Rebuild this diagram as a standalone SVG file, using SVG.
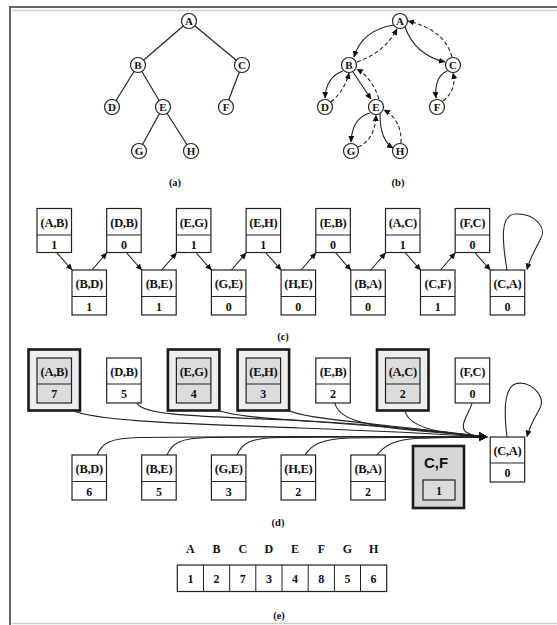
<svg xmlns="http://www.w3.org/2000/svg" width="557" height="625" viewBox="0 0 557 625">
<style>
  text{font-family:"Liberation Serif","Times New Roman",serif;font-weight:bold;fill:#111;text-anchor:middle}
  .lbl{font-size:12.5px;letter-spacing:-0.3px}
  .num{font-size:12px}
  .cap{font-size:10.5px}
  .nd{fill:#fff;stroke:#222;stroke-width:1.2}
  .nt{font-size:11px}
  .bx{fill:#fff;stroke:#222;stroke-width:1.2}
  .dv{stroke:#222;stroke-width:1}
  .sh{fill:#dcdcdc;stroke:#222;stroke-width:1.2}
  .so{fill:#eeeeee;stroke:#1a1a1a;stroke-width:2.6}
  .e{fill:none;stroke:#222;stroke-width:1.2}
  .s{fill:none;stroke:#222;stroke-width:1.1;marker-end:url(#ah)}
  .d{fill:none;stroke:#222;stroke-width:1.1;stroke-dasharray:4 2.5;marker-end:url(#ah)}
  .c{fill:none;stroke:#222;stroke-width:1.1;marker-end:url(#ab)}
  .frame{fill:none;stroke:#666;stroke-width:2}
</style>
<defs>
  <marker id="ah" markerUnits="userSpaceOnUse" markerWidth="7" markerHeight="6" refX="6" refY="3" orient="auto">
    <path d="M0,0 L6.5,3 L0,6 z" fill="#111"/>
  </marker>
  <marker id="ab" markerUnits="userSpaceOnUse" markerWidth="9" markerHeight="8" refX="8" refY="4" orient="auto">
    <path d="M0,0 L8.5,4 L0,8 z" fill="#111"/>
  </marker>
</defs>
<rect x="0" y="0" width="557" height="625" fill="#fff"/>
<g id="frame">
  <path class="frame" d="M10,625 V7 H557"/>
  <path d="M12,10.5 H557" stroke="#d0d0d0" stroke-width="1.5" fill="none"/>
  <path d="M12,623.5 H557" stroke="#d0d0d0" stroke-width="1.5" fill="none"/>
</g>

<!-- Tree (a) -->
<g id="edges-a">
  <line class="e" x1="189" y1="21" x2="138" y2="65"/>
  <line class="e" x1="189" y1="21" x2="242" y2="65"/>
  <line class="e" x1="138" y1="65" x2="112" y2="107"/>
  <line class="e" x1="138" y1="65" x2="163" y2="107"/>
  <line class="e" x1="242" y1="65" x2="226" y2="107"/>
  <line class="e" x1="163" y1="107" x2="139" y2="151"/>
  <line class="e" x1="163" y1="107" x2="191" y2="151"/>
</g>
<g id="a-A"><circle class="nd" cx="189" cy="21" r="7.5"/><text class="nt" x="189" y="25">A</text></g>
<g id="a-B"><circle class="nd" cx="138" cy="65" r="7.5"/><text class="nt" x="138" y="69">B</text></g>
<g id="a-C"><circle class="nd" cx="242" cy="65" r="7.5"/><text class="nt" x="242" y="69">C</text></g>
<g id="a-D"><circle class="nd" cx="112" cy="107" r="7.5"/><text class="nt" x="112" y="111">D</text></g>
<g id="a-E"><circle class="nd" cx="163" cy="107" r="7.5"/><text class="nt" x="163" y="111">E</text></g>
<g id="a-F"><circle class="nd" cx="226" cy="107" r="7.5"/><text class="nt" x="226" y="111">F</text></g>
<g id="a-G"><circle class="nd" cx="139" cy="151" r="7.5"/><text class="nt" x="139" y="155">G</text></g>
<g id="a-H"><circle class="nd" cx="191" cy="151" r="7.5"/><text class="nt" x="191" y="155">H</text></g>
<text class="cap" x="175" y="186">(a)</text>

<!-- Tree (b) -->
<g id="edges-b">
  <path class="s" d="M394,25 Q362,30 354,57"/>
  <path class="d" d="M357,62 Q385,52 397,29"/>
  <path class="s" d="M405,27 Q415,55 445,62"/>
  <path class="d" d="M452,57 Q445,30 408,21"/>
  <path class="s" d="M343,71 Q326,77 325,98"/>
  <path class="d" d="M331,102 Q345,90 349,73"/>
  <path class="s" d="M353,72 L371,99"/>
  <path class="d" d="M379,99 Q372,78 357,69"/>
  <path class="s" d="M370,113 Q352,118 351,142"/>
  <path class="d" d="M358,147 Q375,140 376,115"/>
  <path class="s" d="M380,114 Q380,140 393,148"/>
  <path class="d" d="M401,143 Q402,120 384,110"/>
  <path class="s" d="M447,71 Q434,77 436,98"/>
  <path class="d" d="M443,101 Q457,90 453,73"/>
</g>
<g id="b-A"><circle class="nd" cx="400" cy="21" r="7.5"/><text class="nt" x="400" y="25">A</text></g>
<g id="b-B"><circle class="nd" cx="349" cy="65" r="7.5"/><text class="nt" x="349" y="69">B</text></g>
<g id="b-C"><circle class="nd" cx="453" cy="65" r="7.5"/><text class="nt" x="453" y="69">C</text></g>
<g id="b-D"><circle class="nd" cx="325" cy="107" r="7.5"/><text class="nt" x="325" y="111">D</text></g>
<g id="b-E"><circle class="nd" cx="376" cy="107" r="7.5"/><text class="nt" x="376" y="111">E</text></g>
<g id="b-F"><circle class="nd" cx="437" cy="107" r="7.5"/><text class="nt" x="437" y="111">F</text></g>
<g id="b-G"><circle class="nd" cx="351" cy="151" r="7.5"/><text class="nt" x="351" y="155">G</text></g>
<g id="b-H"><circle class="nd" cx="400" cy="151" r="7.5"/><text class="nt" x="400" y="155">H</text></g>
<text class="cap" x="398" y="186">(b)</text>

<!-- Row (c) -->
<g id="edges-c">
  <path class="s" d="M57,253 L72,270"/>
  <path class="s" d="M92,270 L106.7,253"/>
  <path class="s" d="M126.7,253 L141.7,270"/>
  <path class="s" d="M161.7,270 L176.4,253"/>
  <path class="s" d="M196.4,253 L211.4,270"/>
  <path class="s" d="M231.4,270 L246.1,253"/>
  <path class="s" d="M266.1,253 L281.1,270"/>
  <path class="s" d="M301.1,270 L315.8,253"/>
  <path class="s" d="M335.8,253 L350.8,270"/>
  <path class="s" d="M370.8,270 L385.5,253"/>
  <path class="s" d="M405.5,253 L420.5,270"/>
  <path class="s" d="M440.5,270 L455.2,253"/>
  <path class="s" d="M475.2,253 L490.2,270"/>
  <path class="s" d="M507,270 C502,240 500,215 515,214 C535,213 548,228 540,240 C535,250 530,258 527,269.5"/>
</g>
<g id="c-AB"><rect class="bx" x="37" y="208.5" width="34.5" height="44"/><line class="dv" x1="37" y1="235" x2="71.5" y2="235"/><text class="lbl" x="54.25" y="226.5">(A,B)</text><text class="num" x="54.25" y="248.5">1</text></g>
<g id="c-DB"><rect class="bx" x="106.7" y="208.5" width="34.5" height="44"/><line class="dv" x1="106.7" y1="235" x2="141.2" y2="235"/><text class="lbl" x="123.95" y="226.5">(D,B)</text><text class="num" x="123.95" y="248.5">0</text></g>
<g id="c-EG"><rect class="bx" x="176.4" y="208.5" width="34.5" height="44"/><line class="dv" x1="176.4" y1="235" x2="210.9" y2="235"/><text class="lbl" x="193.65" y="226.5">(E,G)</text><text class="num" x="193.65" y="248.5">1</text></g>
<g id="c-EH"><rect class="bx" x="246.1" y="208.5" width="34.5" height="44"/><line class="dv" x1="246.1" y1="235" x2="280.6" y2="235"/><text class="lbl" x="263.35" y="226.5">(E,H)</text><text class="num" x="263.35" y="248.5">1</text></g>
<g id="c-EB"><rect class="bx" x="315.8" y="208.5" width="34.5" height="44"/><line class="dv" x1="315.8" y1="235" x2="350.3" y2="235"/><text class="lbl" x="333.05" y="226.5">(E,B)</text><text class="num" x="333.05" y="248.5">0</text></g>
<g id="c-AC"><rect class="bx" x="385.5" y="208.5" width="34.5" height="44"/><line class="dv" x1="385.5" y1="235" x2="420" y2="235"/><text class="lbl" x="402.75" y="226.5">(A,C)</text><text class="num" x="402.75" y="248.5">1</text></g>
<g id="c-FC"><rect class="bx" x="455.2" y="208.5" width="34.5" height="44"/><line class="dv" x1="455.2" y1="235" x2="489.7" y2="235"/><text class="lbl" x="472.45" y="226.5">(F,C)</text><text class="num" x="472.45" y="248.5">0</text></g>
<g id="c-BD"><rect class="bx" x="72" y="270" width="34.5" height="45"/><line class="dv" x1="72" y1="296.5" x2="106.5" y2="296.5"/><text class="lbl" x="89.25" y="288">(B,D)</text><text class="num" x="89.25" y="310.5">1</text></g>
<g id="c-BE"><rect class="bx" x="141.7" y="270" width="34.5" height="45"/><line class="dv" x1="141.7" y1="296.5" x2="176.2" y2="296.5"/><text class="lbl" x="158.95" y="288">(B,E)</text><text class="num" x="158.95" y="310.5">1</text></g>
<g id="c-GE"><rect class="bx" x="211.4" y="270" width="34.5" height="45"/><line class="dv" x1="211.4" y1="296.5" x2="245.9" y2="296.5"/><text class="lbl" x="228.65" y="288">(G,E)</text><text class="num" x="228.65" y="310.5">0</text></g>
<g id="c-HE"><rect class="bx" x="281.1" y="270" width="34.5" height="45"/><line class="dv" x1="281.1" y1="296.5" x2="315.6" y2="296.5"/><text class="lbl" x="298.35" y="288">(H,E)</text><text class="num" x="298.35" y="310.5">0</text></g>
<g id="c-BA"><rect class="bx" x="350.8" y="270" width="34.5" height="45"/><line class="dv" x1="350.8" y1="296.5" x2="385.3" y2="296.5"/><text class="lbl" x="368.05" y="288">(B,A)</text><text class="num" x="368.05" y="310.5">0</text></g>
<g id="c-CF"><rect class="bx" x="420.5" y="270" width="34.5" height="45"/><line class="dv" x1="420.5" y1="296.5" x2="455" y2="296.5"/><text class="lbl" x="437.75" y="288">(C,F)</text><text class="num" x="437.75" y="310.5">1</text></g>
<g id="c-CA"><rect class="bx" x="490.2" y="270" width="34.5" height="45"/><line class="dv" x1="490.2" y1="296.5" x2="524.7" y2="296.5"/><text class="lbl" x="507.45" y="288">(C,A)</text><text class="num" x="507.45" y="310.5">0</text></g>
<text class="cap" x="283" y="340">(c)</text>

<!-- Row (d) -->
<g id="d-AB"><rect class="so" x="28.5" y="349.5" width="51.5" height="61"/><rect class="sh" x="37" y="358" width="34.5" height="45"/><line class="dv" x1="37" y1="384" x2="71.5" y2="384"/><text class="lbl" x="54.25" y="376">(A,B)</text><text class="num" x="54.25" y="398">7</text></g>
<g id="d-DB"><rect class="bx" x="106.7" y="358" width="34.5" height="45"/><line class="dv" x1="106.7" y1="384" x2="141.2" y2="384"/><text class="lbl" x="123.95" y="376">(D,B)</text><text class="num" x="123.95" y="398">5</text></g>
<g id="d-EG"><rect class="so" x="167.9" y="349.5" width="51.5" height="61"/><rect class="sh" x="176.4" y="358" width="34.5" height="45"/><line class="dv" x1="176.4" y1="384" x2="210.9" y2="384"/><text class="lbl" x="193.65" y="376">(E,G)</text><text class="num" x="193.65" y="398">4</text></g>
<g id="d-EH"><rect class="so" x="237.6" y="349.5" width="51.5" height="61"/><rect class="sh" x="246.1" y="358" width="34.5" height="45"/><line class="dv" x1="246.1" y1="384" x2="280.6" y2="384"/><text class="lbl" x="263.35" y="376">(E,H)</text><text class="num" x="263.35" y="398">3</text></g>
<g id="d-EB"><rect class="bx" x="315.8" y="358" width="34.5" height="45"/><line class="dv" x1="315.8" y1="384" x2="350.3" y2="384"/><text class="lbl" x="333.05" y="376">(E,B)</text><text class="num" x="333.05" y="398">2</text></g>
<g id="d-AC"><rect class="so" x="377" y="349.5" width="51.5" height="61"/><rect class="sh" x="385.5" y="358" width="34.5" height="45"/><line class="dv" x1="385.5" y1="384" x2="420" y2="384"/><text class="lbl" x="402.75" y="376">(A,C)</text><text class="num" x="402.75" y="398">2</text></g>
<g id="d-FC"><rect class="bx" x="455.2" y="358" width="34.5" height="45"/><line class="dv" x1="455.2" y1="384" x2="489.7" y2="384"/><text class="lbl" x="472.45" y="376">(F,C)</text><text class="num" x="472.45" y="398">0</text></g>

<g id="edges-d">
  <path class="c" d="M72,410 C95,422 200,424 300,428 C380,431 440,434 487,437"/>
  <path class="c" d="M137,403 C142,414 180,416 290,420 C380,424 440,432 487,437"/>
  <path class="c" d="M218,410 C235,418 300,420 360,425 C420,430 460,434 487,437"/>
  <path class="c" d="M288,410 C300,417 340,420 390,426 C440,431 465,434 487,437"/>
  <path class="c" d="M335,403 C338,418 360,424 400,429 C440,433 465,435 487,437"/>
  <path class="c" d="M405,410 C406,422 425,430 450,433 C465,435 478,436 487,437"/>
  <path class="c" d="M472,403 C470,412 458,426 466,432 C472,436 480,437 487,437"/>
  <path class="c" d="M97,455 C102,443 110,438 140,437.5 C300,436 420,436.5 487,437"/>
  <path class="c" d="M167,455 C172,443 180,438 210,437.5 C330,436 430,436.5 487,437"/>
  <path class="c" d="M237,455 C242,443 250,438 280,437.5 C380,436.5 440,436.5 487,437"/>
  <path class="c" d="M305,455 C312,444 322,439 350,438 C420,437 460,437 487,437"/>
  <path class="c" d="M377,455 C385,445 395,440 415,438.5 C450,437 470,437 487,437"/>
  <path class="s" d="M507,437 C503,405 505,383 520,383 C535,384 545,398 540,408 C535,418 530,425 527,436.5"/>
</g>

<g id="d-BD"><rect class="bx" x="72" y="455" width="34.5" height="45"/><line class="dv" x1="72" y1="481.5" x2="106.5" y2="481.5"/><text class="lbl" x="89.25" y="473">(B,D)</text><text class="num" x="89.25" y="495.5">6</text></g>
<g id="d-BE"><rect class="bx" x="141.7" y="455" width="34.5" height="45"/><line class="dv" x1="141.7" y1="481.5" x2="176.2" y2="481.5"/><text class="lbl" x="158.95" y="473">(B,E)</text><text class="num" x="158.95" y="495.5">5</text></g>
<g id="d-GE"><rect class="bx" x="211.4" y="455" width="34.5" height="45"/><line class="dv" x1="211.4" y1="481.5" x2="245.9" y2="481.5"/><text class="lbl" x="228.65" y="473">(G,E)</text><text class="num" x="228.65" y="495.5">3</text></g>
<g id="d-HE"><rect class="bx" x="281.1" y="455" width="34.5" height="45"/><line class="dv" x1="281.1" y1="481.5" x2="315.6" y2="481.5"/><text class="lbl" x="298.35" y="473">(H,E)</text><text class="num" x="298.35" y="495.5">2</text></g>
<g id="d-BA"><rect class="bx" x="350.8" y="455" width="34.5" height="45"/><line class="dv" x1="350.8" y1="481.5" x2="385.3" y2="481.5"/><text class="lbl" x="368.05" y="473">(B,A)</text><text class="num" x="368.05" y="495.5">2</text></g>
<g id="d-CF"><rect x="413" y="446" width="51" height="62" fill="#d6d6d6" stroke="#1a1a1a" stroke-width="2.6"/><text x="436" y="468" style="font-family:'Liberation Sans',Arial,sans-serif;font-size:15px;font-weight:bold">C,F</text><rect class="sh" x="423" y="480" width="32" height="20"/><text class="num" x="439" y="495">1</text></g>
<g id="d-CA"><rect class="bx" x="490.2" y="437" width="34.5" height="45"/><line class="dv" x1="490.2" y1="463" x2="524.7" y2="463"/><text class="lbl" x="507.45" y="455">(C,A)</text><text class="num" x="507.45" y="477">0</text></g>
<text class="cap" x="278" y="526">(d)</text>

<!-- Array (e) -->
<g id="e-array">
  <text class="num" x="190.4" y="552.5">A</text>
  <text class="num" x="216.6" y="552.5">B</text>
  <text class="num" x="242.8" y="552.5">C</text>
  <text class="num" x="268.9" y="552.5">D</text>
  <text class="num" x="295.1" y="552.5">E</text>
  <text class="num" x="321.3" y="552.5">F</text>
  <text class="num" x="347.5" y="552.5">G</text>
  <text class="num" x="373.6" y="552.5">H</text>
  <rect class="bx" x="177.3" y="565" width="209.4" height="26.5"/>
  <line class="dv" x1="203.5" y1="565" x2="203.5" y2="591.5"/>
  <line class="dv" x1="229.7" y1="565" x2="229.7" y2="591.5"/>
  <line class="dv" x1="255.8" y1="565" x2="255.8" y2="591.5"/>
  <line class="dv" x1="282" y1="565" x2="282" y2="591.5"/>
  <line class="dv" x1="308.2" y1="565" x2="308.2" y2="591.5"/>
  <line class="dv" x1="334.4" y1="565" x2="334.4" y2="591.5"/>
  <line class="dv" x1="360.5" y1="565" x2="360.5" y2="591.5"/>
  <text class="num" x="190.4" y="582.5">1</text>
  <text class="num" x="216.6" y="582.5">2</text>
  <text class="num" x="242.8" y="582.5">7</text>
  <text class="num" x="268.9" y="582.5">3</text>
  <text class="num" x="295.1" y="582.5">4</text>
  <text class="num" x="321.3" y="582.5">8</text>
  <text class="num" x="347.5" y="582.5">5</text>
  <text class="num" x="373.6" y="582.5">6</text>
</g>
<text class="cap" x="279" y="619">(e)</text>
</svg>
